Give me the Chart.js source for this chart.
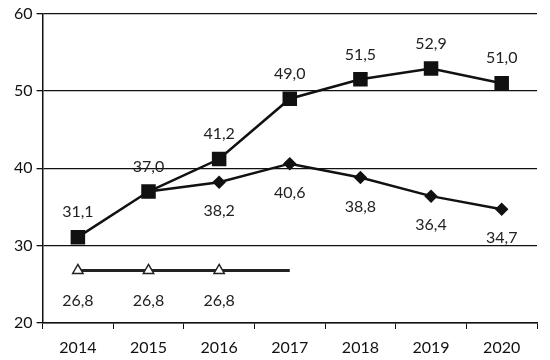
<!DOCTYPE html>
<html>
<head>
<meta charset="utf-8">
<script src="https://cdn.jsdelivr.net/npm/chart.js@4.4.1/dist/chart.umd.min.js"></script>
<style>
  html, body { margin: 0; padding: 0; background: #fff; }
  #wrap { width: 550px; height: 360px; }
</style>
</head>
<body>
<div id="wrap"><canvas id="chart" width="550" height="360"></canvas></div>
<script>
// data
const YEARS = ['2014', '2015', '2016', '2017', '2018', '2019', '2020'];
const SQUARES = [31.1, 37.0, 41.2, 49.0, 51.5, 52.9, 51.0];
const DIAMONDS = [null, 37.0, 38.2, 40.6, 38.8, 36.4, 34.7];
const TRIANGLES = [26.8, 26.8, 26.8, 26.8, null, null, null];
const Y_TICKS = [20, 30, 40, 50, 60];

const FONT = 'Lato, "Open Sans", sans-serif';

// comma decimals like the original
const fmt = v => v.toFixed(1).replace('.', ',');

// simple value labels (no datalabels plugin offline)
const valueLabels = {
    id: 'valueLabels',
    afterDatasetsDraw(chart) {
        const ctx = chart.ctx;
        ctx.save();
        ctx.font = '16px ' + FONT;
        ctx.fillStyle = '#222';
        ctx.textAlign = 'center';
        ctx.textBaseline = 'middle';
        chart.data.datasets.forEach((ds, di) => {
            const meta = chart.getDatasetMeta(di);
            const skip = ds.hideLabels || [];
            meta.data.forEach((pt, i) => {
                const v = ds.data[i];
                if (v == null || skip.includes(i)) return;
                ctx.fillText(fmt(v), pt.x, pt.y + ds.labelDy);
            });
        });
        ctx.restore();
    }
};

new Chart(document.getElementById('chart'), {
    type: 'line',
    data: {
        labels: YEARS,
        datasets: [
            {
                data: SQUARES,
                borderColor: '#111',
                borderWidth: 2.5,
                pointStyle: 'rect',
                pointRadius: 8.5,
                pointBackgroundColor: '#111',
                pointBorderColor: '#111',
                labelDy: -25,
                tension: 0
            },
            {
                data: DIAMONDS,
                borderColor: '#111',
                borderWidth: 2.5,
                pointStyle: 'rectRot',
                pointRadius: 5,
                pointBackgroundColor: '#111',
                pointBorderColor: '#111',
                labelDy: 29,
                hideLabels: [1],
                tension: 0
            },
            {
                data: TRIANGLES,
                borderColor: '#222',
                borderWidth: 3,
                pointStyle: 'triangle',
                pointRadius: [6, 6, 6, 0],
                pointBackgroundColor: '#fff',
                pointBorderColor: '#222',
                pointBorderWidth: 1.5,
                labelDy: 30,
                hideLabels: [3],
                tension: 0
            }
        ]
    },
    options: {
        responsive: false,
        animation: false,
        layout: { padding: { top: 12, right: 13, left: 10, bottom: 0 } },
        plugins: { legend: { display: false }, tooltip: { enabled: false } },
        scales: {
            x: {
                offset: true,
                afterFit: axis => { axis.height = 37; },
                grid: { display: true, drawOnChartArea: false, offset: true, color: '#111', tickLength: 6 },
                border: { color: '#111', width: 1.5 },
                ticks: { color: '#111', font: { size: 16, family: FONT }, padding: 9 }
            },
            y: {
                min: 20,
                max: 60,
                afterBuildTicks: axis => { axis.ticks = Y_TICKS.map(v => ({ value: v })); },
                grid: { color: '#111', lineWidth: 1.3, tickLength: 6 },
                border: { color: '#111', width: 1.5 },
                ticks: { color: '#111', font: { size: 16, family: FONT }, padding: 4 }
            }
        }
    },
    plugins: [valueLabels]
});
</script>
</body>
</html>
